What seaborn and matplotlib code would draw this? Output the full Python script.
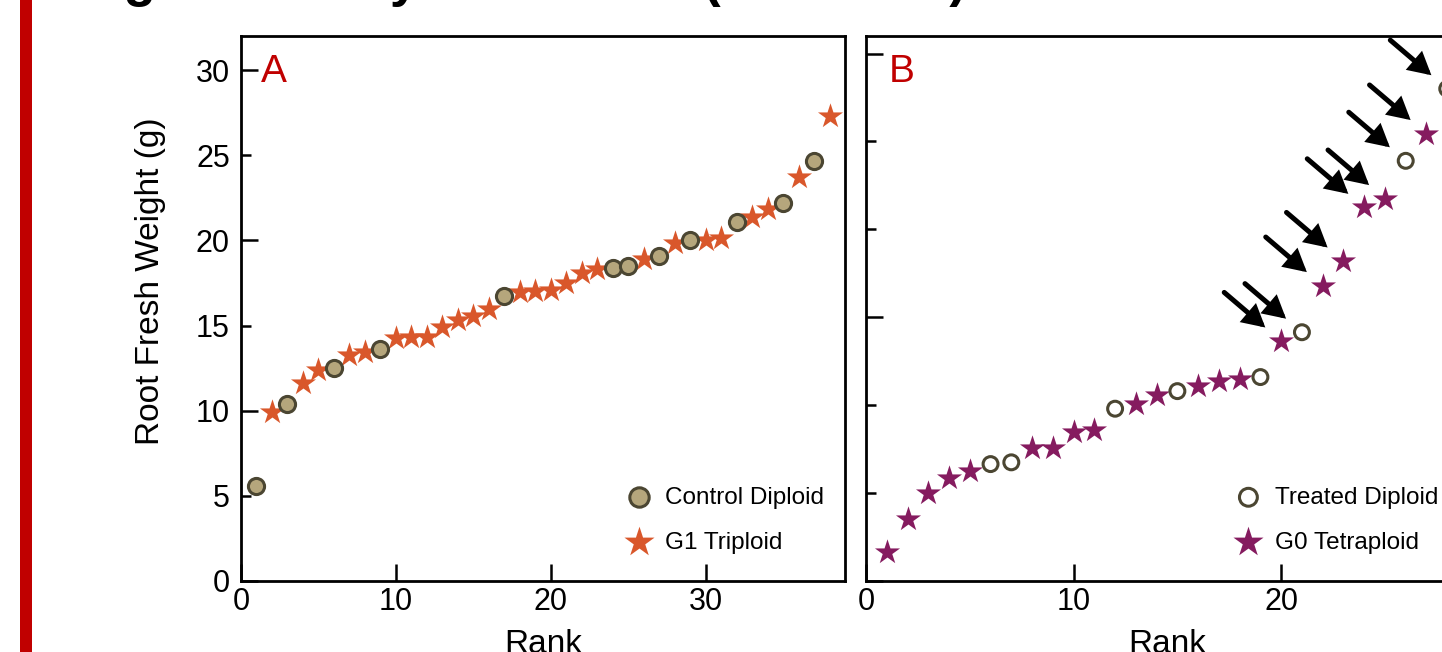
"""
plot.py
Root fresh weight ranked by plant: (A) control diploid vs G1 triploid,
(B) treated diploid vs G0 tetraploid.
"""
import matplotlib
matplotlib.use("Agg")
import matplotlib.pyplot as plt
import pandas as pd
import seaborn as sns
from matplotlib.patches import Rectangle
from matplotlib.ticker import MultipleLocator, FormatStrFormatter

# ---- panel A data ----
ctrl_rank = [1, 3, 6, 9, 17, 24, 25, 27, 29, 32, 35, 37]
ctrl_wt   = [5.6, 10.4, 12.5, 13.65, 16.75, 18.4, 18.5, 19.1, 20.0, 21.05, 22.2, 24.65]
g1_rank   = [2, 4, 5, 7, 8, 10, 11, 12, 13, 14, 15, 16, 18, 19, 20, 21, 22, 23,
             26, 28, 30, 31, 33, 34, 36, 38]
g1_wt     = [9.9, 11.6, 12.4, 13.25, 13.45, 14.25, 14.3, 14.35, 14.9, 15.3, 15.55,
             16.0, 16.95, 17.0, 17.1, 17.5, 18.1, 18.3, 18.9, 19.85, 20.0, 20.15,
             21.35, 21.85, 23.7, 27.3]

# ---- panel B data ----
trt_rank  = [6, 7, 12, 15, 19, 21, 26, 28]
trt_wt    = [6.65, 6.75, 9.8, 10.8, 11.6, 14.15, 23.9, 28.0]
g0_rank   = [1, 2, 3, 4, 5, 8, 9, 10, 11, 13, 14, 16, 17, 18, 20, 22, 23, 24, 25, 27]
g0_wt     = [1.65, 3.5, 5.0, 5.85, 6.25, 7.55, 7.55, 8.45, 8.6, 10.05, 10.6, 11.1,
             11.4, 11.5, 13.65, 16.8, 18.2, 21.25, 21.75, 25.45]
arrow_ranks = [20, 21, 22, 23, 24, 25, 26, 27, 28]

TITLE = "Big Variability at Harvest (G0 vs G1)"

TAN    = "#b5a67c"
OLIVE  = "#4b4632"
ORANGE = "#d9572b"
PURPLE = "#851b5f"
RED    = "#c00000"

sns.set_theme(style="ticks")
plt.rcParams["font.family"] = ["Liberation Sans", "DejaVu Sans"]
plt.rcParams["text.color"] = "black"
plt.rcParams["axes.labelcolor"] = "black"

W, H = 1442, 652
fig = plt.figure(figsize=(W / 100, H / 100), dpi=100)
fig.patch.set_facecolor("white")

ax_a = fig.add_axes([241 / W, 71 / H, 604 / W, 545 / H])
ax_b = fig.add_axes([866 / W, 71 / H, 602 / W, 545 / H])

df_ctrl = pd.DataFrame({"rank": ctrl_rank, "wt": ctrl_wt})
df_g1   = pd.DataFrame({"rank": g1_rank, "wt": g1_wt})
df_trt  = pd.DataFrame({"rank": trt_rank, "wt": trt_wt})
df_g0   = pd.DataFrame({"rank": g0_rank, "wt": g0_wt})

# panel A
sns.scatterplot(data=df_ctrl, x="rank", y="wt", ax=ax_a, marker="o", s=135,
                color=TAN, edgecolor=OLIVE, linewidth=2.2,
                label="Control Diploid", zorder=4)
sns.scatterplot(data=df_g1, x="rank", y="wt", ax=ax_a, marker="*", s=360,
                color=ORANGE, edgecolor=ORANGE, linewidth=0,
                label="G1 Triploid", zorder=3)

# panel B
sns.scatterplot(data=df_trt, x="rank", y="wt", ax=ax_b, marker="o", s=115,
                facecolor="none", edgecolor=OLIVE, linewidth=2.2,
                label="Treated Diploid", zorder=4)
sns.scatterplot(data=df_g0, x="rank", y="wt", ax=ax_b, marker="*", s=360,
                color=PURPLE, edgecolor=PURPLE, linewidth=0,
                label="G0 Tetraploid", zorder=3)

# arrows pointing at the jump in panel B
wt_b = dict(zip(trt_rank + g0_rank, trt_wt + g0_wt))
for r in arrow_ranks:
    ax_b.annotate("", xy=(r, wt_b[r]), xytext=(-41, 35), textcoords="offset points",
                  annotation_clip=False,
                  arrowprops=dict(arrowstyle="-|>,head_length=0.55,head_width=0.3",
                                  mutation_scale=20, lw=3.6, color="black",
                                  shrinkA=0, shrinkB=15, joinstyle="miter"))

for ax, xmax, ymax in [(ax_a, 39, 32), (ax_b, 29, 31)]:
    ax.set_xlim(0, xmax)
    ax.set_ylim(0, ymax)
    ax.xaxis.set_major_locator(MultipleLocator(10))
    for sp in ax.spines.values():
        sp.set_linewidth(2)
        sp.set_color("black")
        sp.set_visible(True)
    ax.tick_params(which="both", direction="in", width=1.8, colors="black",
                   labelsize=22)
    ax.tick_params(which="major", length=12)
    ax.tick_params(which="minor", length=7)
    ax.tick_params(axis="x", pad=4)
    ax.tick_params(axis="y", which="both", pad=8)
    ax.set_xlabel("Rank", fontsize=24)
    ax.xaxis.set_label_coords(0.5, -0.088)
    ax.set_ylabel("")

ax_a.yaxis.set_major_locator(MultipleLocator(10))
ax_a.yaxis.set_minor_locator(MultipleLocator(5))
ax_a.yaxis.set_major_formatter(FormatStrFormatter("%d"))
ax_a.yaxis.set_minor_formatter(FormatStrFormatter("%d"))
ax_a.set_ylabel("Root Fresh Weight (g)", fontsize=24)
ax_a.yaxis.set_label_coords(-0.124, 0.55)

ax_b.yaxis.set_major_locator(MultipleLocator(15))
ax_b.yaxis.set_minor_locator(MultipleLocator(5))
ax_b.tick_params(axis="y", which="both", labelleft=False)

ax_a.text(0.033, 0.934, "A", transform=ax_a.transAxes, color=RED, fontsize=28,
          ha="left", va="center")
ax_b.text(0.038, 0.934, "B", transform=ax_b.transAxes, color=RED, fontsize=28,
          ha="left", va="center")

leg_kw = dict(frameon=False, loc="lower left", fontsize=17.5, handlelength=1.2,
              handletextpad=0.5, labelspacing=0.95, borderpad=0,
              borderaxespad=0, markerscale=1.2)
ax_a.legend(bbox_to_anchor=(0.634, 0.05), **leg_kw)
ax_b.legend(bbox_to_anchor=(0.611, 0.05), **leg_kw)

# slide decoration: red bar on the left and the cut-off title
fig.patches.append(Rectangle((20 / W, 0), 12 / W, 1, transform=fig.transFigure,
                             facecolor=RED, edgecolor="none"))
fig.text(71 / W, 1 + 4 / H, TITLE, fontsize=38, fontweight="bold",
         ha="left", va="baseline")

fig.savefig("out.png", dpi=100)
plt.close(fig)
